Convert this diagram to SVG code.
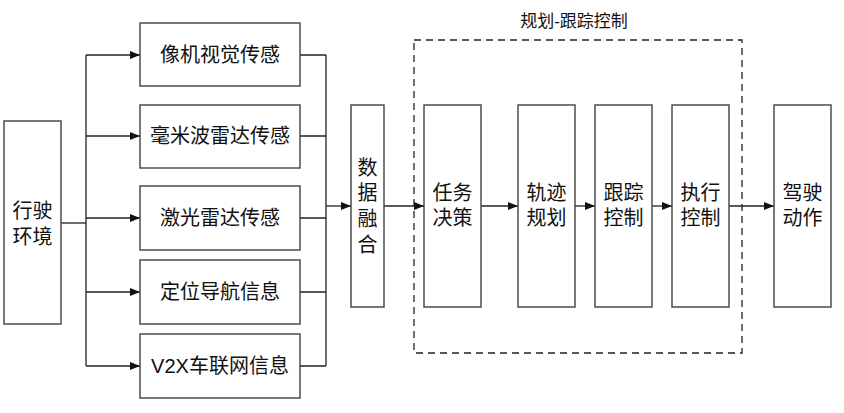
<svg xmlns="http://www.w3.org/2000/svg" width="844" height="413" viewBox="0 0 844 413">
<defs>
<style>
.box{fill:#fff;stroke:#404040;stroke-width:1.4}
.ln{fill:none;stroke:#222;stroke-width:1.3}
.t{font-family:"Liberation Sans","Noto Sans CJK SC",sans-serif;font-size:20px;fill:#111;text-anchor:middle;dominant-baseline:central}
</style>
<marker id="ah" markerWidth="10" markerHeight="8" refX="10" refY="4" orient="auto" markerUnits="userSpaceOnUse">
<path d="M0,0 L10,4 L0,8 Z" fill="#111"/>
</marker>
</defs>
<rect width="844" height="413" fill="#fff"/>
<g id="group-planning">
<rect x="414" y="40" width="328" height="313" fill="none" stroke="#222" stroke-width="1.3" stroke-dasharray="7,5"/>
<text class="t" x="574" y="21" style="font-size:17px">规划-跟踪控制</text>
</g>
<g id="connectors">
<path class="ln" d="M61,223 H86"/>
<path class="ln" d="M86,55 V366"/>
<path class="ln" d="M86,55 H140" marker-end="url(#ah)"/>
<path class="ln" d="M86,136 H140" marker-end="url(#ah)"/>
<path class="ln" d="M86,218 H140" marker-end="url(#ah)"/>
<path class="ln" d="M86,292 H140" marker-end="url(#ah)"/>
<path class="ln" d="M86,366 H140" marker-end="url(#ah)"/>
<path class="ln" d="M300,55 H326 M300,136 H326 M300,218 H326 M300,292 H326 M300,366 H326"/>
<path class="ln" d="M326,55 V366"/>
<path class="ln" d="M326,206 H351" marker-end="url(#ah)"/>
<path class="ln" d="M384,206 H424" marker-end="url(#ah)"/>
<path class="ln" d="M481,206 H518" marker-end="url(#ah)"/>
<path class="ln" d="M575,206 H595" marker-end="url(#ah)"/>
<path class="ln" d="M652,206 H672" marker-end="url(#ah)"/>
<path class="ln" d="M729,206 H774" marker-end="url(#ah)"/>
</g>
<g id="env"><rect class="box" x="4" y="121" width="57" height="203"/><text class="t" x="32.5" y="211">行驶<tspan x="32.5" y="237">环境</tspan></text></g>
<g id="camera"><rect class="box" x="140" y="23" width="160" height="63"/><text class="t" x="220" y="55">像机视觉传感</text></g>
<g id="radar"><rect class="box" x="140" y="105" width="160" height="63"/><text class="t" x="220" y="136">毫米波雷达传感</text></g>
<g id="lidar"><rect class="box" x="140" y="186" width="160" height="64"/><text class="t" x="220" y="218">激光雷达传感</text></g>
<g id="gnss"><rect class="box" x="140" y="260" width="160" height="64"/><text class="t" x="220" y="292">定位导航信息</text></g>
<g id="v2x"><rect class="box" x="140" y="334" width="160" height="64"/><text class="t" x="220" y="366">V2X车联网信息</text></g>
<g id="fusion"><rect class="box" x="351" y="105" width="33" height="202"/><text class="t" x="367.5" y="168">数<tspan x="367.5" y="193">据</tspan><tspan x="367.5" y="219">融</tspan><tspan x="367.5" y="245">合</tspan></text></g>
<g id="decision"><rect class="box" x="424" y="105" width="57" height="202"/><text class="t" x="452.5" y="193">任务<tspan x="452.5" y="218">决策</tspan></text></g>
<g id="trajectory"><rect class="box" x="518" y="105" width="57" height="202"/><text class="t" x="546.5" y="193">轨迹<tspan x="546.5" y="218">规划</tspan></text></g>
<g id="tracking"><rect class="box" x="595" y="105" width="57" height="202"/><text class="t" x="623.5" y="193">跟踪<tspan x="623.5" y="218">控制</tspan></text></g>
<g id="execution"><rect class="box" x="672" y="105" width="57" height="202"/><text class="t" x="700.5" y="193">执行<tspan x="700.5" y="218">控制</tspan></text></g>
<g id="action"><rect class="box" x="774" y="105" width="57" height="202"/><text class="t" x="802.5" y="193">驾驶<tspan x="802.5" y="218">动作</tspan></text></g>
</svg>
